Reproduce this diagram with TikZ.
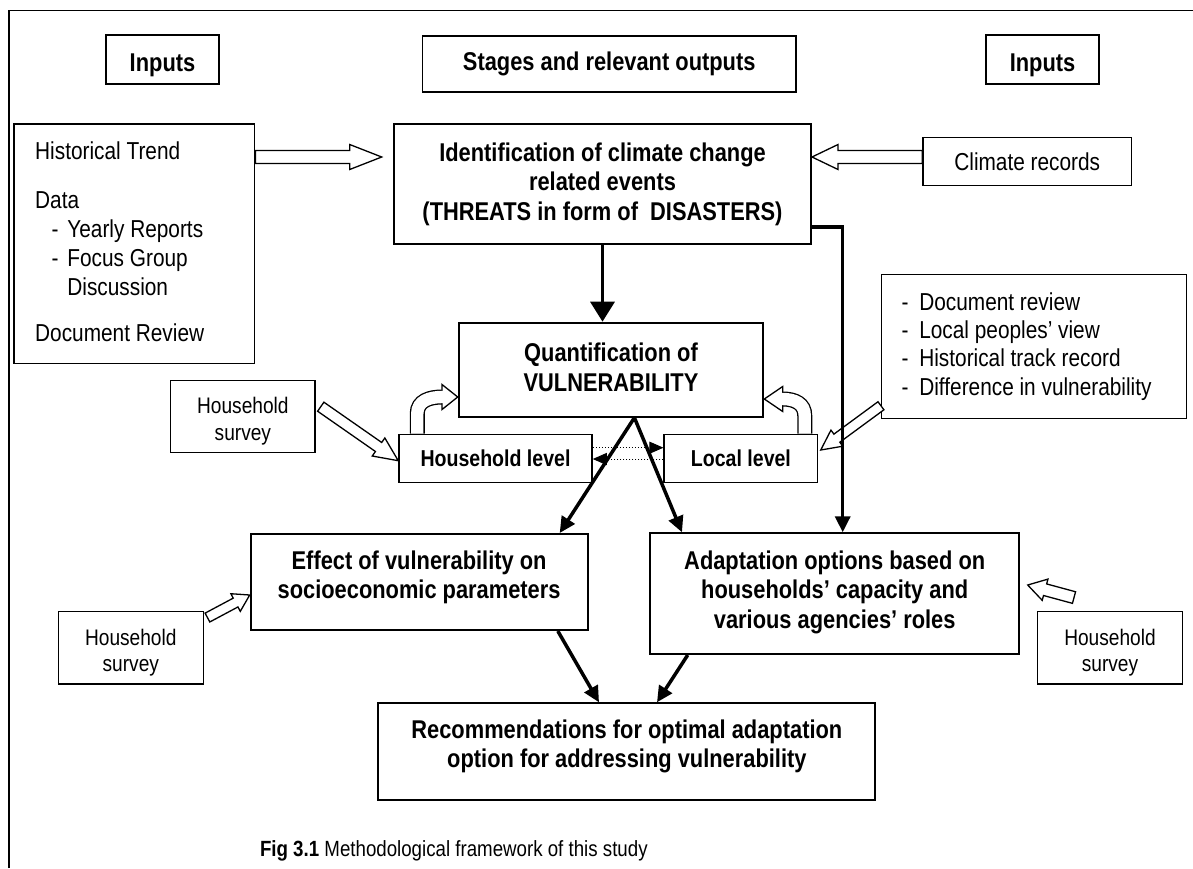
\documentclass[tikz,border=0pt]{standalone}
\usepackage{fontspec}
\setmainfont{Liberation Sans}[FakeStretch=0.85]
\usetikzlibrary{calc,arrows.meta}

\newcommand{\fB}{\fontsize{25.7pt}{29.5pt}\selectfont\bfseries}
\newcommand{\fM}{\fontsize{23pt}{27pt}\selectfont\bfseries}
\newcommand{\fR}{\fontsize{24.5pt}{28.3pt}\selectfont}
\newcommand{\fS}{\fontsize{22.5pt}{26.7pt}\selectfont}
\newcommand{\fC}{\fontsize{22pt}{26pt}\selectfont}

% block (hollow) arrow: #1 start, #2 tip, #3 half shaft width, #4 half head width, #5 head length
\newcommand{\blockarrow}[5]{%
  \coordinate (ba-s) at #1;
  \coordinate (ba-t) at #2;
  \coordinate (ba-b) at ($(ba-t)!#5!(ba-s)$);
  \filldraw[hollow]
    ($(ba-s)!#3!90:(ba-t)$) -- ($(ba-b)!#3!90:(ba-t)$) -- ($(ba-b)!#4!90:(ba-t)$) --
    (ba-t) --
    ($(ba-b)!#4!-90:(ba-t)$) -- ($(ba-b)!#3!-90:(ba-t)$) -- ($(ba-s)!#3!-90:(ba-t)$) -- cycle;
}

\begin{document}
\begin{tikzpicture}[x=1pt,y=-1pt,
  box/.style={draw, line width=1.5pt, inner sep=0pt, align=center, fill=white},
  boxb/.style={box, line width=2pt},
  txt/.style={inner sep=0pt, outer sep=0pt, anchor=base west},
  thickarrow/.style={line width=3.5pt, -{Triangle[length=16pt,width=15pt]}},
  dotarrow/.style={line width=1pt, dotted, -{Triangle[length=14pt,width=12pt]}},
  hollow/.style={fill=white, draw=black, line width=1.3pt, line join=miter}]

\path[use as bounding box, fill=white] (0,0) rectangle (1193,868);

% frame
\draw[line width=1.3pt] (9,868) -- (9,10.5) -- (1193,10.5);

% header boxes
\node[box, minimum width=113pt, minimum height=49pt, font=\fB] (inL) at (162.5,59.5) {\rule{0pt}{28.8pt}Inputs};
\node[box, minimum width=373.5pt, minimum height=56pt, font=\fB] (stages) at (609.25,64) {Stages and relevant outputs};
\node[box, minimum width=113pt, minimum height=49pt, font=\fB] (inR) at (1042.5,59.5) {\rule{0pt}{28.8pt}Inputs};

% left input box
\node[box, minimum width=240.7pt, minimum height=239.3pt] (hist) at (134.35,243.65) {};
\node[txt, font=\fR] (h1) at (35.2,159.3) {Historical Trend};
\node[txt, font=\fR] (h2) at (35.2,208.3) {Data};
\node[txt, font=\fR] (h3) at (51.7,237.3) {\makebox[15.7pt][l]{-}Yearly Reports};
\node[txt, font=\fR] (h4) at (51.7,266.7) {\makebox[15.7pt][l]{-}Focus Group};
\node[txt, font=\fR] (h5) at (67.4,295) {Discussion};
\node[txt, font=\fR] (h6) at (35.2,341.7) {Document Review};

% stage boxes
\node[boxb, minimum width=417pt, minimum height=120pt, font=\fB] (ident) at (602.5,184)
  {Identification of climate change\\related events\\(THREATS in form of\ \ DISASTERS)};
\node[box, minimum width=208.5pt, minimum height=47.6pt, font=\fR] (climate) at (1027.25,161.5) {Climate records};

\node[boxb, minimum width=304.6pt, minimum height=94pt, font=\fB] (quant) at (611,369.7)
  {Quantification of\\VULNERABILITY\rule[-5.2pt]{0pt}{1pt}};
\node[box, minimum width=144.3pt, minimum height=72pt, font=\fS] (hhsurv1) at (242.85,416.7)
  {\rule{0pt}{25.7pt}Household\\survey};
\node[box, minimum width=193pt, minimum height=48pt, font=\fM] (hhlevel) at (495.5,458.3) {Household level};
\node[box, minimum width=153.5pt, minimum height=48pt, font=\fM] (loclevel) at (740.95,458.3) {Local level};

\node[box, minimum width=305pt, minimum height=144pt] (list) at (1034.2,346.3) {};
\node[txt, font=\fR] (l1) at (901.7,310) {\makebox[17.6pt][l]{-}Document review};
\node[txt, font=\fR] (l2) at (901.7,338.3) {\makebox[17.6pt][l]{-}Local peoples’ view};
\node[txt, font=\fR] (l3) at (901.7,366.7) {\makebox[17.6pt][l]{-}Historical track record};
\node[txt, font=\fR] (l4) at (901.7,395) {\makebox[17.6pt][l]{-}Difference in vulnerability};

\node[boxb, minimum width=336.8pt, minimum height=96pt, font=\fB] (effect) at (419.1,582)
  {Effect of vulnerability on\\socioeconomic parameters\rule[-14.8pt]{0pt}{1pt}};
\node[boxb, minimum width=368.6pt, minimum height=120.7pt, font=\fB] (adapt) at (834.7,593.65)
  {Adaptation options based on\\households’ capacity and\\various agencies’ roles\rule[-8.6pt]{0pt}{1pt}};
\node[box, minimum width=145pt, minimum height=72.3pt, font=\fS] (hhsurv2) at (130.8,647.85)
  {\rule{0pt}{25.7pt}Household\\survey};
\node[box, minimum width=145.4pt, minimum height=72.3pt, font=\fS] (hhsurv3) at (1110,647.85)
  {\rule{0pt}{25.7pt}Household\\survey};
\node[boxb, minimum width=497.1pt, minimum height=96.7pt, font=\fB] (rec) at (626.85,751.65)
  {Recommendations for optimal adaptation\\option for addressing vulnerability\rule[-16pt]{0pt}{1pt}};

\node[txt, font=\fC] (cap) at (260,856.7) {\textbf{Fig 3.1} Methodological framework of this study};

% hollow straight arrows
\coordinate (t1) at ($(ident.west)+(-11.3,-27)$);
\blockarrow{(hist.east |- t1)}{(t1)}{6.5pt}{12.5pt}{32pt}
\blockarrow{([yshift=4.5pt]climate.west)}{($(ident.east)+(0,-27)$)}{6.5pt}{12.5pt}{26pt}
\blockarrow{($(hhsurv1.east)+(5,-10)$)}{($(hhlevel.west)+(0,2.4)$)}{5.5pt}{11pt}{24pt}
\blockarrow{($(list.south west)+(0,-13.3)$)}{($(loclevel.east)+(2.3,-8.3)$)}{5pt}{10pt}{20pt}
\blockarrow{($(hhsurv2.north east)+(3.4,6.6)$)}{($(effect.west)+(0,13)$)}{5pt}{10pt}{16pt}
\blockarrow{($(hhsurv3.north)+(-36,-13.4)$)}{($(adapt.east)+(7.7,-8.65)$)}{6pt}{11pt}{18pt}

% hollow curved arrows
\coordinate (ca1s) at ($(hhlevel.north west)+(19,0)$);
\coordinate (ca1b) at ($(quant.west)+(-15.7,27.3)$);
\coordinate (ca1t) at ($(quant.west)+(0,27.3)$);
\draw[line width=15pt] (ca1s) -- ++(0,-20) .. controls +(0,-13) and +(-12,0) .. (ca1b);
\filldraw[hollow] ($(ca1b)+(0,-12.5)$) -- (ca1t) -- ($(ca1b)+(0,12.5)$) -- cycle;
\draw[white, line width=12.4pt] (ca1s) -- ++(0,-20) .. controls +(0,-13) and +(-12,0) .. (ca1b) -- ++(2,0);

\coordinate (ca2s) at ($(loclevel.north east)+(-13.7,0)$);
\coordinate (ca2b) at ($(quant.east)+(18.4,29.3)$);
\coordinate (ca2t) at ($(quant.east)+(0,29.3)$);
\draw[line width=15pt] (ca2s) -- ++(0,-18) .. controls +(0,-12) and +(12,0) .. (ca2b);
\filldraw[hollow] ($(ca2b)+(0,-12.5)$) -- (ca2t) -- ($(ca2b)+(0,12.5)$) -- cycle;
\draw[white, line width=12.4pt] (ca2s) -- ++(0,-18) .. controls +(0,-12) and +(12,0) .. (ca2b) -- ++(-2,0);

% dotted arrows between levels
\draw[dotarrow] ([yshift=10.6pt]hhlevel.east) -- ([yshift=10.6pt]loclevel.west);
\draw[dotarrow] ([yshift=-0.7pt]loclevel.west) -- ([yshift=-0.7pt]hhlevel.east);

% thick arrows
\draw[thickarrow, -{Triangle[length=20pt,width=24pt]}] (ident.south) -- (ident.south |- quant.north);
\coordinate (qa) at ([xshift=23.4pt]quant.south);
\draw[thickarrow] (qa) -- ([xshift=-28.8pt]effect.north east);
\draw[thickarrow] (qa) -- ([xshift=32.6pt]adapt.north west);
\draw[thickarrow, line join=miter] ([yshift=18pt]ident.south east) -| ([xshift=193.3pt]adapt.north west);
\draw[thickarrow] ([xshift=-30.7pt]effect.south east) -- ([xshift=221.7pt]rec.north west);
\draw[thickarrow] ([xshift=38.3pt]adapt.south west) -- ([xshift=279.7pt]rec.north west);

\end{tikzpicture}
\end{document}
